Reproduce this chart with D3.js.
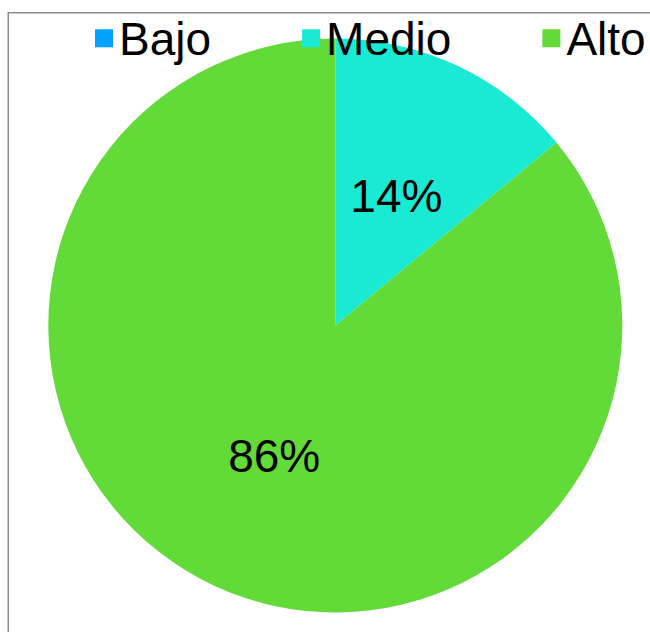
<!DOCTYPE html>
<html>
<head>
<meta charset="utf-8">
<script src="https://cdn.jsdelivr.net/npm/d3@7"></script>
<style>
  html, body { margin: 0; padding: 0; background: #fff; }
  svg { display: block; }
  text { font-family: "Liberation Sans", Arial, sans-serif; fill: #000; }
</style>
</head>
<body>
<div id="chart"></div>
<script>
// Nivel categories and their share (%)
const categories = ["Bajo", "Medio", "Alto"];
const values = [0, 14, 86];
const colors = ["#00A2FF", "#1AE9D3", "#62DA37"];

const width = 650, height = 632;
const cx = 335.3, cy = 325.5, radius = 287;

const svg = d3.select("#chart").append("svg")
  .attr("width", width)
  .attr("height", height);

// chart area frame (right and bottom edges run off the page)
svg.append("rect")
  .attr("x", 8.25).attr("y", 12.75)
  .attr("width", 700).attr("height", 700)
  .attr("fill", "none")
  .attr("stroke", "#8c8c8c")
  .attr("stroke-width", 1.5);

const data = categories.map((c, i) => ({ name: c, value: values[i], color: colors[i] }));

const pie = d3.pie().sort(null).value(d => d.value);
const arc = d3.arc().innerRadius(0).outerRadius(radius);
const labelArc = d3.arc().innerRadius(radius / 2).outerRadius(radius / 2);

const g = svg.append("g").attr("transform", `translate(${cx},${cy})`);
const arcs = pie(data);

g.selectAll("path.slice")
  .data(arcs)
  .join("path")
  .attr("class", "slice")
  .attr("d", arc)
  .attr("fill", d => d.data.color);

g.selectAll("text.pct")
  .data(arcs.filter(d => d.data.value > 0))
  .join("text")
  .attr("class", "pct")
  .attr("transform", d => `translate(${labelArc.centroid(d)})`)
  .attr("text-anchor", "middle")
  .attr("dy", "0.36em")
  .style("font-size", "46px")
  .text(d => d3.format(".0f")(d.data.value) + "%");

// legend across the top
const legend = svg.append("g");
let lx = 95;
data.forEach(d => {
  const item = legend.append("g");
  item.append("rect")
    .attr("x", lx).attr("y", 29.3)
    .attr("width", 18).attr("height", 18)
    .attr("fill", d.color);
  const t = item.append("text")
    .attr("x", lx + 24)
    .attr("y", 54.5)
    .style("font-size", "46px")
    .text(d.name);
  lx += 24 + t.node().getComputedTextLength() + 91;
});
</script>
</body>
</html>
